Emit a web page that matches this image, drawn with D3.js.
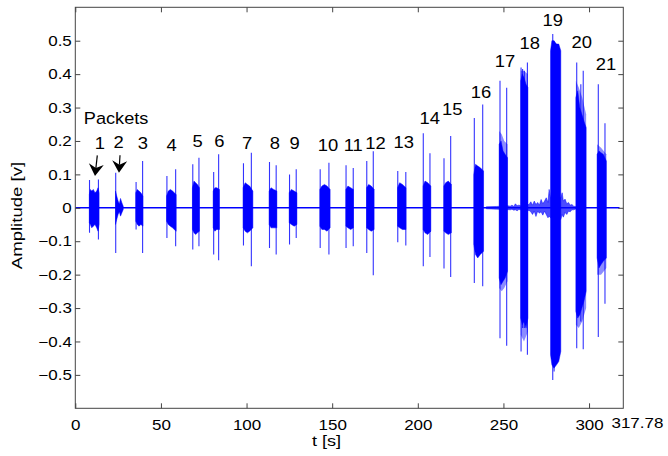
<!DOCTYPE html>
<html><head><meta charset="utf-8">
<script src="https://cdn.jsdelivr.net/npm/d3@7"></script>
<style>
html,body{margin:0;padding:0;background:#fff;}
svg{display:block;font-family:"Liberation Sans",Arial,Helvetica,sans-serif;}
</style></head><body>
<svg id="chart" width="668" height="456"></svg>
<script>
// ---------- data ----------
const xTicks = [0, 50, 100, 150, 200, 250, 300];
const xTickLabels = ["0", "50", "100", "150", "200", "250", "300"];
const xEndValue = 317.78;
const xEndLabel = "317.78";
const yTicks = [-0.5, -0.4, -0.3, -0.2, -0.1, 0, 0.1, 0.2, 0.3, 0.4, 0.5];
const yTickLabels = ["\u22120.5", "\u22120.4", "\u22120.3", "\u22120.2", "\u22120.1", "0", "0.1", "0.2", "0.3", "0.4", "0.5"];
const xLabel = "t [s]";
const yLabel = "Amplitude [v]";
const packetTitle = "Packets";

// packet numbers and where their labels sit (t [s], amplitude [v])
const packetNames = ["1","2","3","4","5","6","7","8","9","10","11","12","13","14","15","16","17","18","19","20","21"];
const packetLabelT = [14.4, 25.3, 39.5, 56.3, 71.5, 84.2, 100.3, 116.6, 128.1, 147.6, 162.3, 175.3, 191.8, 207.0, 220.1, 236.9, 250.9, 265.3, 278.8, 295.7, 309.9];
const packetLabelV = [0.177, 0.178, 0.175, 0.170, 0.181, 0.181, 0.175, 0.175, 0.175, 0.169, 0.170, 0.175, 0.180, 0.250, 0.278, 0.330, 0.422, 0.475, 0.545, 0.478, 0.412];
const packetTitleT = 23.8, packetTitleV = 0.25;

// dense burst envelopes per packet: [t, upper, lower]
const packetEnvelopes = [
  [[8.2,0.04,-0.045],[8.8,0.055,-0.05],[9.6,0.05,-0.06],[10.5,0.055,-0.055],[11.5,0.045,-0.05],[12.5,0.05,-0.06],[13.3,0.06,-0.07],[13.9,0.045,-0.05]],
  [[23.5,0.05,-0.05],[24.2,0.035,-0.035],[25.0,0.02,-0.02],[25.7,0.012,-0.012],[26.4,0.028,-0.025],[27.2,0.015,-0.015],[28.0,0.005,-0.005]],
  [[35.3,0.045,-0.04],[36.2,0.055,-0.05],[37.2,0.05,-0.055],[38.3,0.045,-0.05],[39.5,0.035,-0.055]],
  [[53.3,0.035,-0.04],[54.3,0.05,-0.05],[55.5,0.055,-0.055],[56.8,0.05,-0.06],[57.8,0.045,-0.065],[58.9,0.04,-0.07]],
  [[68.4,0.06,-0.065],[69.3,0.08,-0.075],[70.3,0.075,-0.08],[71.3,0.07,-0.075],[72.5,0.06,-0.07]],
  [[80.5,0.05,-0.06],[81.5,0.06,-0.07],[82.6,0.06,-0.065],[84.2,0.055,-0.065]],
  [[98.0,0.06,-0.06],[99.2,0.075,-0.07],[100.5,0.07,-0.075],[101.8,0.065,-0.07],[103.7,0.05,-0.06]],
  [[113.2,0.05,-0.05],[114.3,0.06,-0.06],[115.8,0.055,-0.06],[117.7,0.05,-0.06]],
  [[124.9,0.045,-0.045],[126.2,0.055,-0.05],[127.8,0.05,-0.055],[129.4,0.045,-0.05]],
  [[142.8,0.055,-0.055],[144.0,0.065,-0.065],[145.5,0.07,-0.065],[147.0,0.065,-0.07],[148.8,0.055,-0.06]],
  [[158.0,0.055,-0.055],[159.2,0.065,-0.06],[160.8,0.06,-0.065],[162.4,0.055,-0.06]],
  [[170.1,0.06,-0.06],[171.3,0.07,-0.065],[172.8,0.065,-0.07],[174.5,0.055,-0.065]],
  [[188.2,0.06,-0.055],[189.4,0.075,-0.06],[191.0,0.07,-0.065],[193.1,0.06,-0.065]],
  [[203.1,0.065,-0.065],[204.2,0.08,-0.075],[205.8,0.075,-0.08],[207.6,0.065,-0.07]],
  [[215.2,0.065,-0.07],[216.3,0.075,-0.075],[217.8,0.08,-0.08],[219.6,0.07,-0.075]],
  [[232.7,0.10,-0.11],[233.7,0.13,-0.14],[235.0,0.125,-0.15],[236.5,0.12,-0.14],[238.4,0.11,-0.13]],
  [[247.5,0.19,-0.21],[248.6,0.20,-0.23],[249.8,0.17,-0.22],[251.0,0.16,-0.21],[252.4,0.15,-0.19]],
  [[260.1,0.38,-0.33],[261.0,0.40,-0.35],[262.0,0.39,-0.34],[263.2,0.37,-0.36],[264.3,0.36,-0.33]],
  [[277.5,0.47,-0.44],[278.3,0.50,-0.47],[279.5,0.50,-0.48],[281.0,0.49,-0.47],[282.3,0.49,-0.46],[283.5,0.47,-0.43]],
  [[292.3,0.33,-0.31],[293.4,0.35,-0.33],[294.6,0.30,-0.32],[295.8,0.28,-0.30],[297.0,0.26,-0.28],[298.3,0.24,-0.25]],
  [[304.7,0.16,-0.15],[305.8,0.17,-0.18],[307.0,0.165,-0.17],[308.3,0.16,-0.16],[310.1,0.14,-0.15]]
];

// fainter outer fringe of the larger bursts: [t, upper, lower]
const fringeEnvelopes = [
  [[247.5,0.23,-0.24],[249.0,0.22,-0.25],[250.5,0.2,-0.24],[252.4,0.19,-0.22]],
  [[260.1,0.41,-0.38],[262.0,0.41,-0.40],[264.3,0.40,-0.37]],
  [[292.3,0.38,-0.35],[294.0,0.36,-0.36],[296.0,0.33,-0.34],[298.3,0.28,-0.30]],
  [[304.7,0.19,-0.2],[307.0,0.18,-0.2],[310.1,0.16,-0.18]]
];

// isolated spikes: [t, max, min]
const spikes = [
  [8.3,0.083,-0.075],[13.5,0.085,-0.095],
  [23.6,0.105,-0.135],
  [35.5,0.077,-0.065],[39.3,0.14,-0.135],
  [53.5,0.095,-0.09],[58.6,0.115,-0.115],
  [68.6,0.13,-0.125],[72.2,0.15,-0.115],
  [80.8,0.107,-0.14],[83.7,0.16,-0.157],
  [98.2,0.133,-0.113],[102.8,0.165,-0.175],
  [113.4,0.137,-0.12],[117.3,0.127,-0.14],
  [125.1,0.10,-0.11],[129.0,0.115,-0.09],
  [143.0,0.115,-0.12],[148.1,0.135,-0.14],
  [158.1,0.127,-0.12],[162.3,0.119,-0.115],
  [170.2,0.14,-0.135],[174.0,0.169,-0.202],
  [188.3,0.11,-0.103],[193.0,0.107,-0.113],
  [203.2,0.223,-0.175],[207.1,0.163,-0.147],
  [215.3,0.148,-0.182],[219.2,0.215,-0.207],
  [233.0,0.269,-0.225],[237.9,0.309,-0.235],
  [248.0,0.38,-0.39],[251.9,0.359,-0.413],
  [260.3,0.42,-0.43],[261.2,0.415,-0.36],[262.2,0.41,-0.36],[264.0,0.435,-0.44],
  [278.8,0.52,-0.515],[279.6,0.50,-0.49],
  [292.8,0.435,-0.42],[295.2,0.37,-0.34],[296.6,0.41,-0.423],
  [305.4,0.37,-0.387],[309.3,0.253,-0.287]
];

// background noise around packets 17-20: [t, upper, lower]
const noiseEnvelope = [
  [240,0.003,-0.003],[246,0.004,-0.004],[252,0.006,-0.005],[254,0.005,-0.006],[255,0.008,-0.004],
  [256,0.004,-0.007],[257,0.012,-0.006],[258,0.006,-0.009],[259,0.008,-0.005],[260,0.006,-0.006],
  [265,0.01,-0.008],[266,0.018,-0.012],[267,0.008,-0.02],[268,0.02,-0.01],[269,0.01,-0.026],
  [270,0.016,-0.01],[271,0.008,-0.016],[272,0.025,-0.012],[273,0.012,-0.022],[274,0.02,-0.01],
  [275,0.03,-0.02],[276,0.016,-0.03],[276.7,0.055,-0.025],[277.5,0.03,-0.03],
  [283.5,0.03,-0.035],[284.3,0.045,-0.02],[285,0.02,-0.028],[286,0.026,-0.014],[287,0.012,-0.02],
  [288,0.016,-0.01],[289,0.008,-0.012],[290,0.01,-0.006],[291,0.005,-0.006],[292.5,0.003,-0.003]
];
const signalSpan = [0, 317.78];

// arrows (t, amplitude)
const arrowTips  = [[11.5, 0.095], [25.5, 0.105]];
const arrowTails = [[12.85, 0.157], [26.1, 0.157]];

// ---------- drawing ----------
const svg = d3.select("#chart");
const L = 75.3, R = 623.3, T = 7.3, B = 408.3;
const x = d3.scaleLinear().domain([0, 320]).range([L, R]);
const y = d3.scaleLinear().domain([-0.6, 0.6]).range([B, T]);
const blue = "#0000ff";
const SX = 1.17;

const plot = svg.append("g");
plot.append("defs").append("clipPath").attr("id","clip")
  .append("rect").attr("x",L).attr("y",T).attr("width",R-L).attr("height",B-T);
const g = plot.append("g").attr("clip-path","url(#clip)");

// zero line
g.append("line")
  .attr("x1", x(signalSpan[0])).attr("x2", x(signalSpan[1]))
  .attr("y1", y(0)).attr("y2", y(0))
  .attr("stroke", blue).attr("stroke-width", 1.6);

const area = d3.area().x(d => x(d[0])).y0(d => y(d[2])).y1(d => y(d[1]));

g.append("path").datum(noiseEnvelope).attr("d", area)
  .attr("fill", blue).attr("fill-opacity", 0.7).attr("stroke", blue).attr("stroke-width", 0.7).attr("stroke-opacity",0.7);

g.selectAll("path.fringe").data(fringeEnvelopes).join("path")
  .attr("class","fringe").attr("d", area)
  .attr("fill", blue).attr("fill-opacity", 0.45);

g.selectAll("path.burst").data(packetEnvelopes).join("path")
  .attr("class","burst").attr("d", area)
  .attr("fill", blue).attr("stroke", blue).attr("stroke-width", 0.8).attr("stroke-opacity", 0.6);

g.selectAll("line.spike").data(spikes).join("line")
  .attr("class","spike")
  .attr("x1", d => x(d[0])).attr("x2", d => x(d[0]))
  .attr("y1", d => y(d[1])).attr("y2", d => y(d[2]))
  .attr("stroke", blue).attr("stroke-width", 1.1).attr("stroke-opacity", 0.8);

// axes
const axisColor = "#444";
const ax = svg.append("g").attr("class","axes");
function styleAxis(sel) {
  sel.select(".domain").remove();
  sel.selectAll(".tick line").attr("stroke", axisColor).attr("stroke-width", 1);
  sel.selectAll(".tick text").attr("fill", "#000").attr("font-size", 14.5)
     .attr("font-family", '"Liberation Sans",Arial,Helvetica,sans-serif');
}
const axB = ax.append("g").attr("transform", `translate(0,${B})`)
  .call(d3.axisBottom(x).tickValues(xTicks).tickFormat((d,i) => xTickLabels[i]).tickSizeInner(-5).tickSizeOuter(0).tickPadding(11));
styleAxis(axB);
axB.selectAll(".tick text").attr("transform", `scale(${SX},1)`);

const axT = ax.append("g").attr("transform", `translate(0,${T})`)
  .call(d3.axisTop(x).tickValues(xTicks).tickFormat("").tickSizeInner(-5).tickSizeOuter(0));
styleAxis(axT);

const axL = ax.append("g").attr("transform", `translate(${L},0)`)
  .call(d3.axisLeft(y).tickValues(yTicks).tickFormat((d,i) => yTickLabels[i]).tickSizeInner(-5).tickSizeOuter(0).tickPadding(3));
styleAxis(axL);
axL.selectAll(".tick text").attr("transform", `scale(${SX},1)`);

const axR = ax.append("g").attr("transform", `translate(${R},0)`)
  .call(d3.axisRight(y).tickValues(yTicks).tickFormat("").tickSizeInner(-5).tickSizeOuter(0));
styleAxis(axR);

// box
ax.append("rect").attr("x", L).attr("y", T).attr("width", R-L).attr("height", B-T)
  .attr("fill", "none").attr("stroke", axisColor).attr("stroke-width", 1);

// end-of-record label
svg.append("text").text(xEndLabel)
  .attr("transform", `translate(${x(xEndValue) - 8},${B + 19.5}) scale(${SX},1)`)
  .attr("font-size", 14.5).attr("text-anchor", "start");

// axis titles
svg.append("text").text(xLabel)
  .attr("transform", `translate(326.5,446) scale(${SX},1)`)
  .attr("font-size", 15.5).attr("text-anchor", "middle");
svg.append("text").text(yLabel)
  .attr("transform", `translate(21.5,215.5) rotate(-90) scale(1.2,1)`)
  .attr("font-size", 15.5).attr("text-anchor", "middle");

// packet labels
svg.selectAll("text.pk").data(packetNames).join("text")
  .attr("class","pk").text(d => d)
  .attr("transform", (d,i) => `translate(${x(packetLabelT[i])},${y(packetLabelV[i])}) scale(1.15,1)`)
  .attr("font-size", 16).attr("text-anchor", "middle");
svg.append("text").text(packetTitle)
  .attr("transform", `translate(${x(packetTitleT)},${y(packetTitleV)}) scale(1.1,1)`)
  .attr("font-size", 16.5).attr("text-anchor", "middle");

// arrows
arrowTips.forEach((tip, i) => {
  const tx = x(tip[0]), ty = y(tip[1]);
  const sx = x(arrowTails[i][0]), sy = y(arrowTails[i][1]);
  const dx = tx - sx, dy = ty - sy, len = Math.hypot(dx, dy);
  const ux = dx/len, uy = dy/len, nx = -uy, ny = ux;
  const HL = 12, HW = 7.5, notch = 4;
  svg.append("line").attr("x1", sx).attr("y1", sy).attr("x2", tx - ux*(HL-notch)).attr("y2", ty - uy*(HL-notch))
    .attr("stroke", "#000").attr("stroke-width", 1.2);
  const pts = [[tx,ty],[tx-ux*HL+nx*HW, ty-uy*HL+ny*HW],[tx-ux*(HL-notch), ty-uy*(HL-notch)],[tx-ux*HL-nx*HW, ty-uy*HL-ny*HW]];
  svg.append("path").attr("d", "M" + pts.map(p => p.join(",")).join("L") + "Z").attr("fill", "#000");
});
</script>
</body></html>
